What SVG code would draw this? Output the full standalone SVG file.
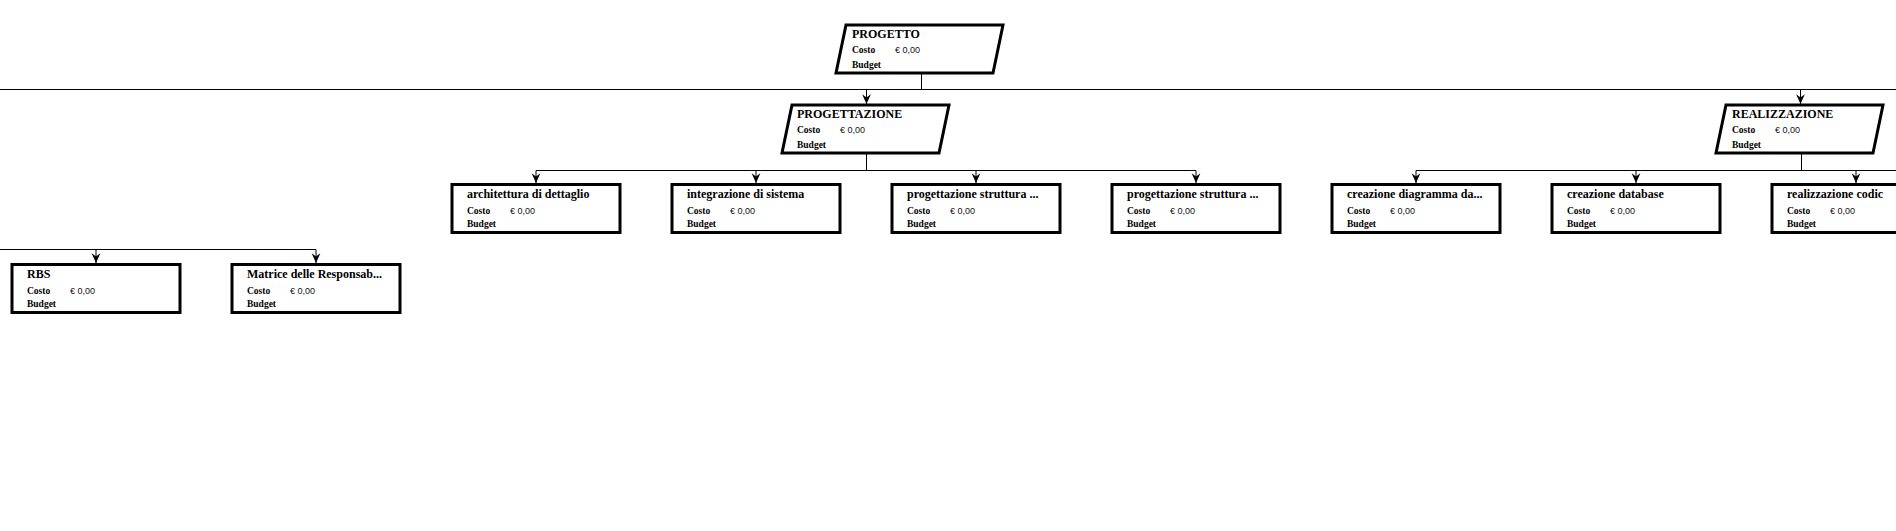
<svg xmlns="http://www.w3.org/2000/svg" width="1896" height="531" viewBox="0 0 1896 531">
<style>
.b{fill:#fff;stroke:#000;stroke-width:3}
.c{fill:none;stroke:#000;stroke-width:1}
.t{font-family:"Liberation Serif","Times New Roman",serif;font-weight:bold;font-size:12px;fill:#000}
.l{font-family:"Liberation Serif","Times New Roman",serif;font-weight:bold;font-size:9.5px;fill:#000}
.v{font-family:"Liberation Sans",Arial,sans-serif;font-size:9px;fill:#111}
</style>
<defs>
<marker id="ar" markerUnits="userSpaceOnUse" markerWidth="12" markerHeight="12" viewBox="-10 -5 11 10" refX="0" refY="0" orient="auto">
<path d="M0,0 L-9,-4 L-6,0 L-9,4 Z" fill="#000"/>
</marker>
</defs>
<rect width="1896" height="531" fill="#fff"/>
<g id="connectors" class="c">
<path d="M921.5,73 V89.5"/>
<path d="M0,89.5 H1896"/>
<path d="M866.5,89.5 V104" marker-end="url(#ar)"/>
<path d="M1800.5,89.5 V104" marker-end="url(#ar)"/>
<path d="M866.5,153 V170.5"/>
<path d="M536,170.5 H1196"/>
<path d="M536,170.5 V183" marker-end="url(#ar)"/>
<path d="M756,170.5 V183" marker-end="url(#ar)"/>
<path d="M976,170.5 V183" marker-end="url(#ar)"/>
<path d="M1196,170.5 V183" marker-end="url(#ar)"/>
<path d="M1801.5,153 V170.5"/>
<path d="M1416,170.5 H1896"/>
<path d="M1416,170.5 V183" marker-end="url(#ar)"/>
<path d="M1636,170.5 V183" marker-end="url(#ar)"/>
<path d="M1856,170.5 V183" marker-end="url(#ar)"/>
<path d="M0,249.5 H316"/>
<path d="M96,249.5 V263" marker-end="url(#ar)"/>
<path d="M316,249.5 V263" marker-end="url(#ar)"/>
</g>
<g id="progetto">
<polygon class="b" points="846,25 1003,25 993,73 836,73"/>
<text class="t" x="852" y="38">PROGETTO</text>
<text class="l" x="852" y="53">Costo</text><text class="v" x="895" y="53">€ 0,00</text>
<text class="l" x="852" y="68">Budget</text>
</g>
<g id="progettazione">
<polygon class="b" points="792,105 949,105 939,153 782,153"/>
<text class="t" x="797" y="118">PROGETTAZIONE</text>
<text class="l" x="797" y="133">Costo</text><text class="v" x="840" y="133">€ 0,00</text>
<text class="l" x="797" y="148">Budget</text>
</g>
<g id="realizzazione">
<polygon class="b" points="1726,105 1883,105 1873,153 1716,153"/>
<text class="t" x="1732" y="118">REALIZZAZIONE</text>
<text class="l" x="1732" y="133">Costo</text><text class="v" x="1775" y="133">€ 0,00</text>
<text class="l" x="1732" y="148">Budget</text>
</g>
<g id="architettura">
<rect class="b" x="452" y="184.5" width="168" height="48"/>
<text class="t" x="467" y="197.5">architettura di dettaglio</text>
<text class="l" x="467" y="214">Costo</text><text class="v" x="510" y="214">€ 0,00</text>
<text class="l" x="467" y="227">Budget</text>
</g>
<g id="integrazione">
<rect class="b" x="672" y="184.5" width="168" height="48"/>
<text class="t" x="687" y="197.5">integrazione di sistema</text>
<text class="l" x="687" y="214">Costo</text><text class="v" x="730" y="214">€ 0,00</text>
<text class="l" x="687" y="227">Budget</text>
</g>
<g id="progettazione-struttura-1">
<rect class="b" x="892" y="184.5" width="168" height="48"/>
<text class="t" x="907" y="197.5">progettazione struttura ...</text>
<text class="l" x="907" y="214">Costo</text><text class="v" x="950" y="214">€ 0,00</text>
<text class="l" x="907" y="227">Budget</text>
</g>
<g id="progettazione-struttura-2">
<rect class="b" x="1112" y="184.5" width="168" height="48"/>
<text class="t" x="1127" y="197.5">progettazione struttura ...</text>
<text class="l" x="1127" y="214">Costo</text><text class="v" x="1170" y="214">€ 0,00</text>
<text class="l" x="1127" y="227">Budget</text>
</g>
<g id="creazione-diagramma">
<rect class="b" x="1332" y="184.5" width="168" height="48"/>
<text class="t" x="1347" y="197.5">creazione diagramma da...</text>
<text class="l" x="1347" y="214">Costo</text><text class="v" x="1390" y="214">€ 0,00</text>
<text class="l" x="1347" y="227">Budget</text>
</g>
<g id="creazione-database">
<rect class="b" x="1552" y="184.5" width="168" height="48"/>
<text class="t" x="1567" y="197.5">creazione database</text>
<text class="l" x="1567" y="214">Costo</text><text class="v" x="1610" y="214">€ 0,00</text>
<text class="l" x="1567" y="227">Budget</text>
</g>
<g id="realizzazione-codice">
<rect class="b" x="1772" y="184.5" width="168" height="48"/>
<text class="t" x="1787" y="197.5">realizzazione codic</text>
<text class="l" x="1787" y="214">Costo</text><text class="v" x="1830" y="214">€ 0,00</text>
<text class="l" x="1787" y="227">Budget</text>
</g>
<g id="rbs">
<rect class="b" x="12" y="264.5" width="168" height="48"/>
<text class="t" x="27" y="277.5">RBS</text>
<text class="l" x="27" y="294">Costo</text><text class="v" x="70" y="294">€ 0,00</text>
<text class="l" x="27" y="307">Budget</text>
</g>
<g id="matrice">
<rect class="b" x="232" y="264.5" width="168" height="48"/>
<text class="t" x="247" y="277.5">Matrice delle Responsab...</text>
<text class="l" x="247" y="294">Costo</text><text class="v" x="290" y="294">€ 0,00</text>
<text class="l" x="247" y="307">Budget</text>
</g>
</svg>
